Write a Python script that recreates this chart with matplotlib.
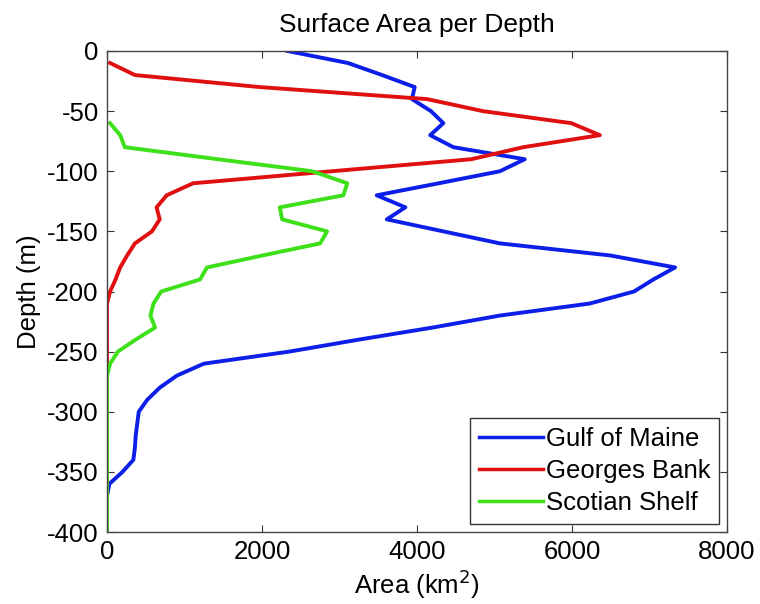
import matplotlib
matplotlib.use('Agg')
import matplotlib.pyplot as plt

plt.rcParams['font.family'] = ['Liberation Sans', 'DejaVu Sans']
plt.rcParams['axes.unicode_minus'] = False

depth = [0, -10, -20, -30, -40, -50, -60, -70, -80, -90, -100, -110, -120, -130,
         -140, -150, -160, -170, -180, -190, -200, -210, -220, -230, -240, -250,
         -260, -270, -280, -290, -300, -310, -320, -330, -340, -350, -360, -370,
         -380, -390, -400]

gulf_of_maine = [2330, 3110, 3550, 3970, 3935, 4180, 4340, 4170, 4470, 5390, 5070,
                 4280, 3480, 3850, 3610, 4340, 5070, 6490, 7330, 7050, 6800, 6230,
                 5070, 4200, 3250, 2350, 1250, 900, 680, 520, 410, 390, 370, 360,
                 340, 200, 30, 0, 0, 0, 0]

georges_bank = [None, 40, 360, 1970, 4130, 4850, 5990, 6360, 5370, 4700, 2900,
                1110, 770, 640, 680, 580, 360, 260, 170, 110, 40, 0, 0, 0, 0, 0,
                0, 0, 0, 0, 0, 0, 0, 0, 0, 0, 0, 0, 0, 0, 0]

scotian_shelf = [None, None, None, None, None, None, 40, 170, 230, 1430, 2650,
                 3100, 3050, 2230, 2260, 2840, 2750, 2010, 1290, 1200, 700, 600,
                 560, 620, 370, 140, 40, 0, 0, 0, 0, 0, 0, 0, 0, 0, 0, 0, 0, 0, 0]

series = [('Gulf of Maine', gulf_of_maine, '#0b1fe8'),
          ('Georges Bank', georges_bank, '#e01010'),
          ('Scotian Shelf', scotian_shelf, '#3ee01a')]

fig = plt.figure(figsize=(7.6, 6.04), dpi=100)
ax = fig.add_axes([107/760, 1-532/604, 620/760, 481/604])

for name, vals, color in series:
    d = [dd for dd, v in zip(depth, vals) if v is not None]
    a = [v for v in vals if v is not None]
    ax.plot(a, d, color=color, linewidth=2.8, label=name)

ax.set_xlim(0, 8000)
ax.set_ylim(-400, 0)
ax.set_xticks([0, 2000, 4000, 6000, 8000])
ax.set_yticks(range(-400, 1, 50))
ax.tick_params(direction='in', top=True, right=True, length=5, width=0.8,
               labelsize=18.5, pad=6, colors='#333333', labelcolor='black')
for s in ax.spines.values():
    s.set_color('#444444')
    s.set_linewidth(1)

ax.set_title('Surface Area per Depth', fontsize=19, pad=14)
ax.set_xlabel('Area (km$^2$)', fontsize=18.5, labelpad=2)
ax.set_ylabel('Depth (m)', fontsize=18.5, labelpad=4)

leg = ax.legend(loc='lower right', fontsize=18.5, handlelength=2.5,
                handletextpad=0.1, borderpad=0.35, labelspacing=0.32,
                fancybox=False, framealpha=1, borderaxespad=0.3)
leg.get_frame().set_edgecolor('#333333')
leg.get_frame().set_linewidth(1)
for line in leg.get_lines():
    line.set_linewidth(2.5)

fig.savefig('out.png', dpi=100)
